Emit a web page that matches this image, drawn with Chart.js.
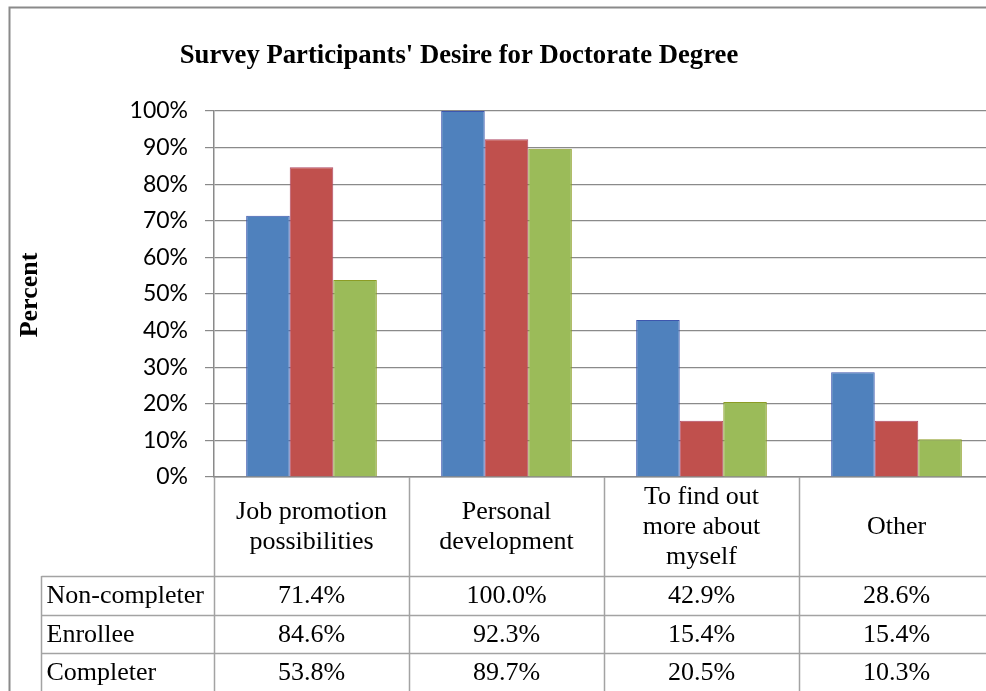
<!DOCTYPE html>
<html>
<head>
<meta charset="utf-8">
<title>Survey Participants' Desire for Doctorate Degree</title>
<script src="https://cdn.jsdelivr.net/npm/chart.js@4.4.1/dist/chart.umd.min.js"></script>
<style>
  html, body { margin: 0; padding: 0; background: #fff; overflow: hidden; }
  #wrap { position: absolute; left: 0; top: 0; width: 986px; height: 691px; overflow: hidden; }
  #chart { display: block; }
</style>
</head>
<body>
<div id="wrap"><canvas id="chart" width="1000" height="691"></canvas></div>
<script>
// Chart data
const categories = [
  ["Job promotion", "possibilities"],
  ["Personal", "development"],
  ["To find out", "more about", "myself"],
  ["Other"]
]
const seriesNames = ["Non-completer", "Enrollee", "Completer"]
const nonCompleter = [71.4, 100.0, 42.9, 28.6]
const enrollee = [84.6, 92.3, 15.4, 15.4]
const completer = [53.8, 89.7, 20.5, 10.3]
const yTicks = [0, 10, 20, 30, 40, 50, 60, 70, 80, 90, 100]

const seriesValues = [nonCompleter, enrollee, completer]
const fills = ["#4F81BD", "#C0504D", "#9BBB59"]
const edges = ["#3D56AE", "#B04A66", "#8C9C25"]

const GRID = "#8a8a8a"
const TABLE_LINE = "#a3a3a3"
const SERIF = "'Liberation Serif', 'Times New Roman', serif"

// Title, axis title, outer frame and data table under the plot
const tablePlugin = {
  id: "dataTable",
  afterDraw(chart) {
    const ctx = chart.ctx
    const area = chart.chartArea
    const x = chart.scales.x
    const n = categories.length
    const colW = (area.right - area.left) / n
    const headerBottom = 576
    const rowH = 38.5
    const labelLeft = 41.5

    ctx.save()

    // outer chart frame
    ctx.strokeStyle = "#8a8a8a"
    ctx.lineWidth = 2
    ctx.beginPath()
    ctx.moveTo(9.5, 800)
    ctx.lineTo(9.5, 7.5)
    ctx.lineTo(1100, 7.5)
    ctx.stroke()

    // chart title
    ctx.fillStyle = "#000"
    ctx.font = "bold 26.7px " + SERIF
    ctx.textAlign = "center"
    ctx.textBaseline = "alphabetic"
    ctx.fillText("Survey Participants' Desire for Doctorate Degree", 459, 63)

    // y axis title
    ctx.save()
    ctx.translate(30, 295)
    ctx.rotate(-Math.PI / 2)
    ctx.font = "bold 26px " + SERIF
    ctx.textBaseline = "middle"
    ctx.fillText("Percent", 0, 0)
    ctx.restore()

    // table grid
    ctx.strokeStyle = TABLE_LINE
    ctx.lineWidth = 1.5
    ctx.beginPath()
    for (let i = 0; i <= n; i++) {
      const bx = Math.round(area.left + i * colW) + 0.5
      ctx.moveTo(bx, area.bottom)
      ctx.lineTo(bx, chart.height)
    }
    ctx.moveTo(labelLeft, headerBottom)
    ctx.lineTo(labelLeft, chart.height)
    for (let r = 0; r < seriesNames.length; r++) {
      const ly = Math.round(headerBottom + r * rowH) + 0.5
      ctx.moveTo(labelLeft, ly)
      ctx.lineTo(area.right + 20, ly)
    }
    ctx.stroke()

    // category labels
    ctx.fillStyle = "#000"
    ctx.font = "26px " + SERIF
    ctx.textAlign = "center"
    ctx.textBaseline = "middle"
    const headMid = (area.bottom + headerBottom) / 2 + 1
    categories.forEach((lines, i) => {
      const cx = x.getPixelForValue(i)
      const top = headMid - (lines.length - 1) * 30 / 2
      lines.forEach((t, k) => ctx.fillText(t, cx, top + k * 30))
    })

    // series rows
    seriesNames.forEach((name, r) => {
      const cy = headerBottom + r * rowH + rowH / 2 + 1
      ctx.textAlign = "left"
      ctx.fillText(name, labelLeft + 5, cy)
      ctx.textAlign = "center"
      seriesValues[r].forEach((v, i) => {
        ctx.fillText(v.toFixed(1) + "%", x.getPixelForValue(i), cy)
      })
    })

    ctx.restore()
  }
}

new Chart(document.getElementById("chart"), {
  type: "bar",
  data: {
    labels: categories.map(c => c.join(" ")),
    datasets: seriesNames.map((name, i) => ({
      label: name,
      data: seriesValues[i],
      backgroundColor: fills[i],
      borderColor: edges[i],
      borderWidth: 1,
      categoryPercentage: 0.67,
      barPercentage: 1.0
    }))
  },
  options: {
    responsive: false,
    animation: false,
    devicePixelRatio: 1,
    layout: { padding: { top: 111, left: 0, right: 6, bottom: 214 } },
    plugins: {
      legend: { display: false },
      tooltip: { enabled: false }
    },
    scales: {
      x: {
        grid: { display: false },
        border: { color: GRID, width: 1.5 },
        ticks: { display: false },
        afterFit: s => { s.height = 0 }
      },
      y: {
        min: 0,
        max: 100,
        afterFit: s => { s.width = 214 },
        afterBuildTicks: s => { s.ticks = yTicks.map(v => ({ value: v })) },
        grid: { color: GRID, lineWidth: 1.2, tickLength: 9, tickColor: GRID },
        border: { color: GRID, width: 1.5 },
        ticks: {
          padding: 17,
          color: "#000",
          font: { family: "Lato, 'Liberation Sans', sans-serif", size: 23 },
          callback: v => v + "%"
        }
      }
    }
  },
  plugins: [tablePlugin]
})
</script>
</body>
</html>
